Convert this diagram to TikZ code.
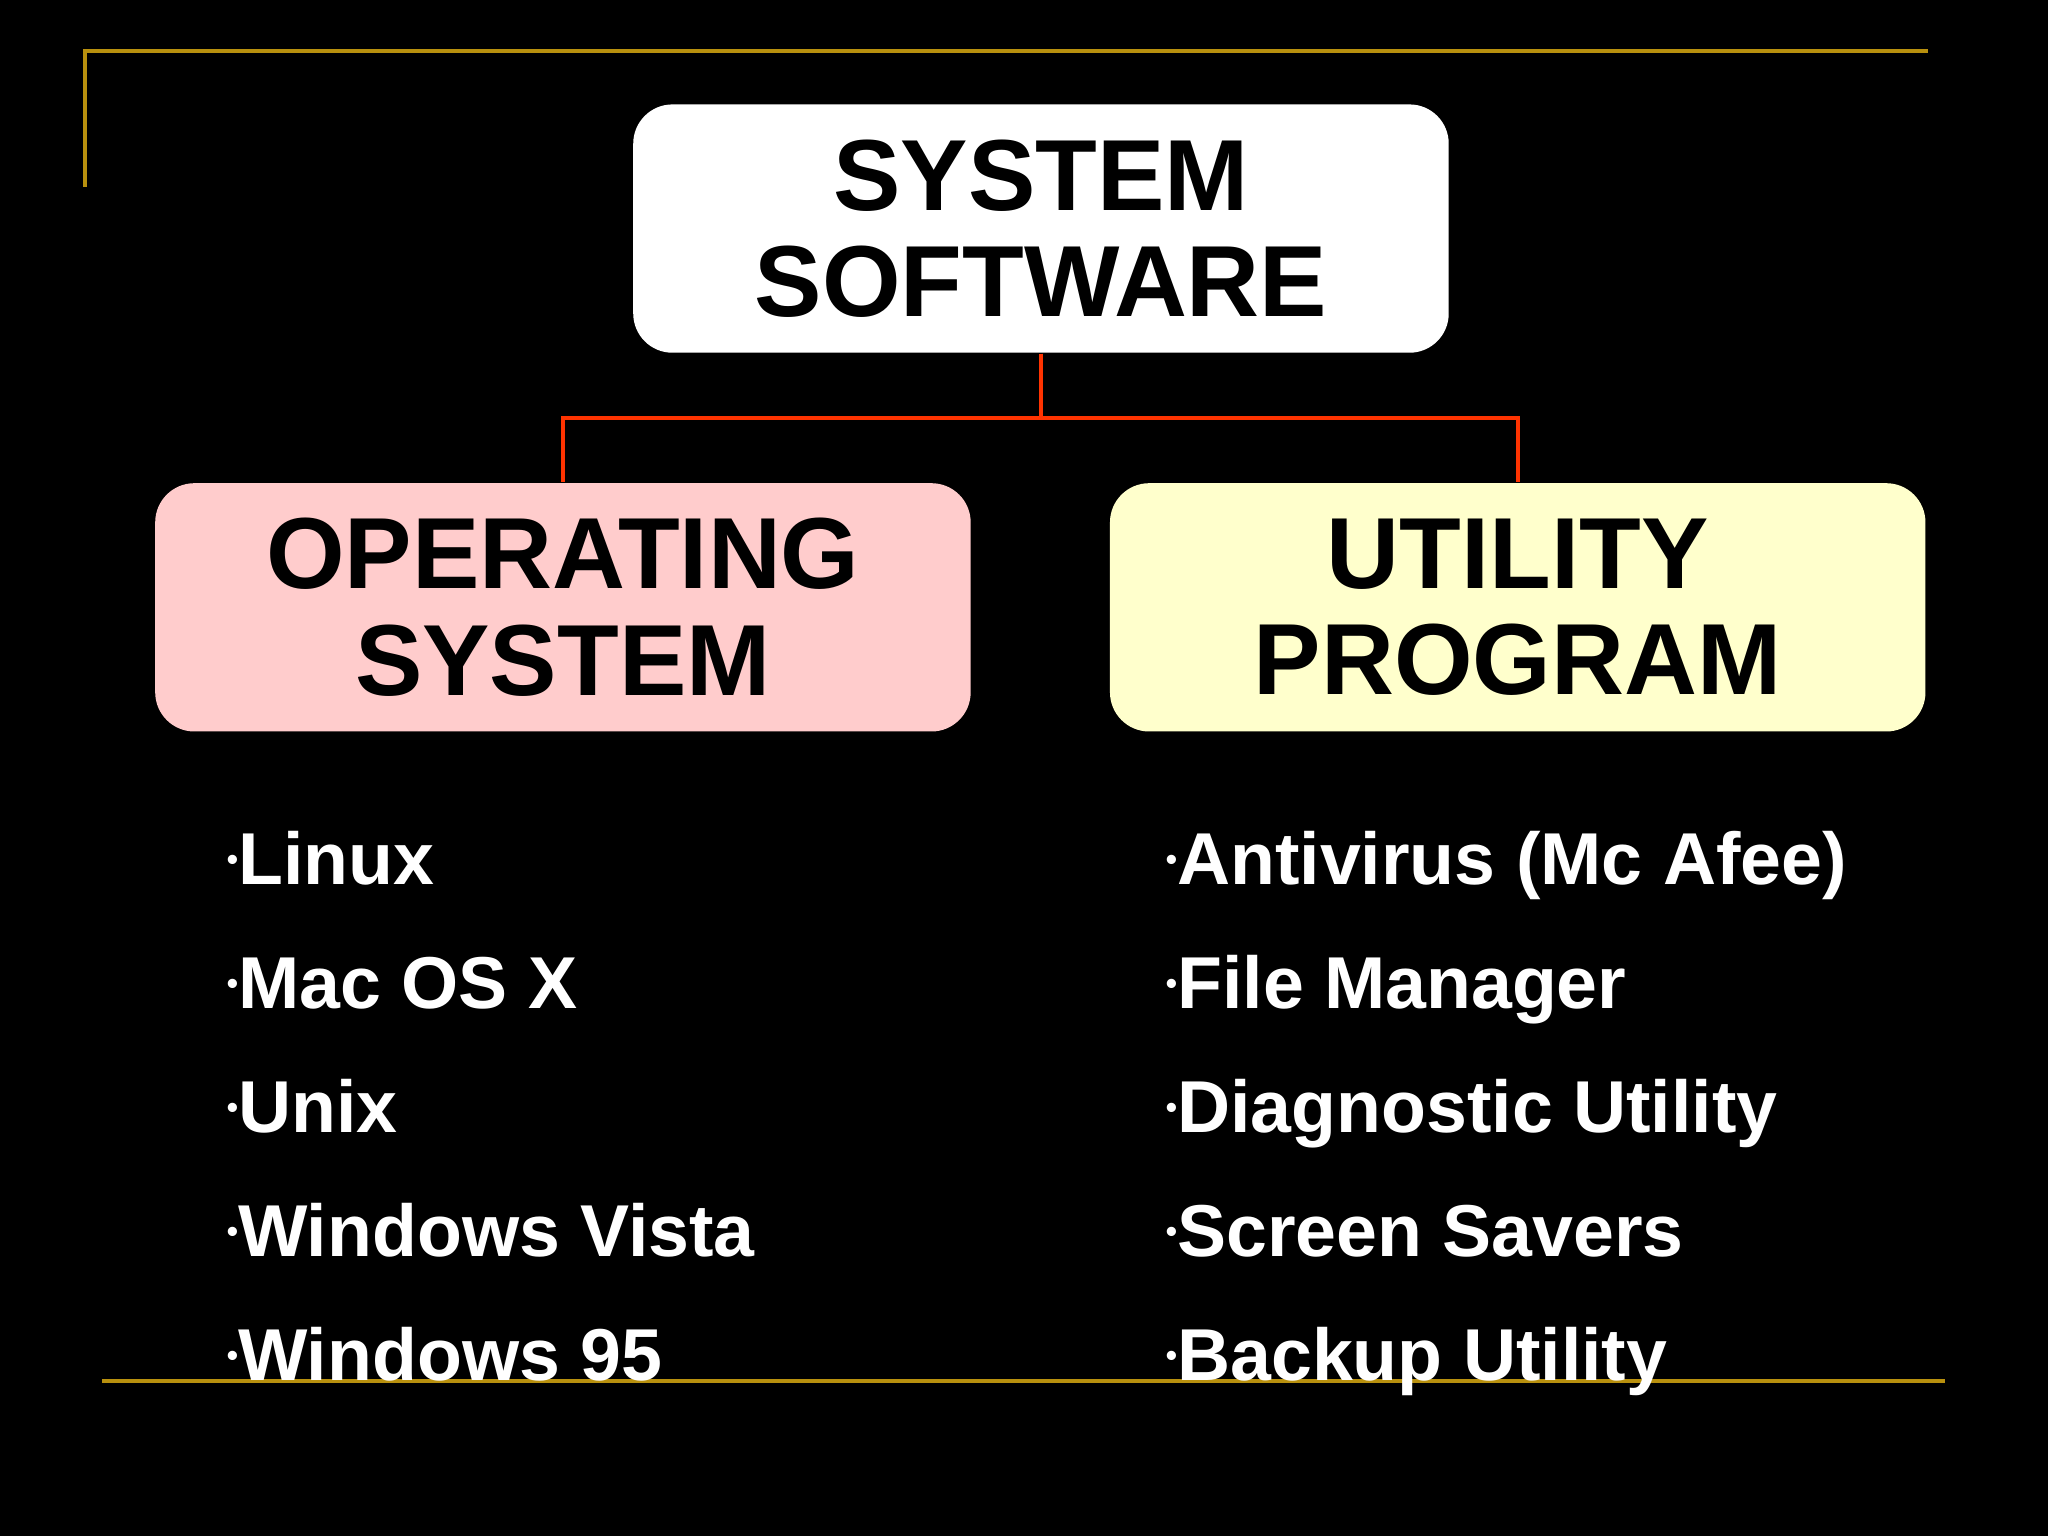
\documentclass[tikz,border=0pt]{standalone}
\usepackage{fontspec}
\setmainfont{Liberation Sans}
\definecolor{gold}{HTML}{B8900E}
\definecolor{conn}{HTML}{FF3300}
\definecolor{pinkbox}{HTML}{FFCCCC}
\definecolor{yelbox}{HTML}{FFFFCC}
\begin{document}
\begin{tikzpicture}[x=0.01cm,y=-0.01cm,
  box/.style={rounded corners=0.3cm,minimum width=6.24cm,minimum height=1.9cm,align=center,font=\bfseries\fontsize{22}{23.2}\selectfont,inner sep=0pt},
  item/.style={anchor=base west,text=white,font=\bfseries\fontsize{16}{18}\selectfont,inner sep=0pt},
  goldline/.style={gold,line width=0.85pt},
  link/.style={conn,line width=0.85pt}]
\fill[black] (0,0) rectangle (1568,1176);
\useasboundingbox (0,0) rectangle (1568,1176);
\coordinate (t1) at (65,143); \coordinate (t2) at (65,39); \coordinate (t3) at (1476,39);
\draw[goldline] (t1) -- (t2) -- (t3);
\coordinate (b1) at (78,1057); \coordinate (b2) at (1489,1057);
\draw[goldline] (b1) -- (b2);
\node[box,fill=white] (ss) at (797,175) {SYSTEM\\SOFTWARE};
\node[box,fill=pinkbox] (os) at (431,465) {OPERATING\\SYSTEM};
\node[box,fill=yelbox] (up) at (1162,465) {UTILITY\\PROGRAM};
\draw[link] (ss.south) -- ++(0,49) -| (os.north);
\draw[link] (ss.south) -- ++(0,49) -| (up.north);
\foreach \t [count=\i] in {Linux,Mac OS X,Unix,Windows Vista,Windows 95}
  \node[item] (l\i) at (173,677+95*\i-95) {\raisebox{0.35ex}{\scriptsize\textbullet}\t};
\foreach \t [count=\i] in {Antivirus (Mc Afee),File Manager,Diagnostic Utility,Screen Savers,Backup Utility}
  \node[item] (r\i) at (892,677+95*\i-95) {\raisebox{0.35ex}{\scriptsize\textbullet}\t};
\end{tikzpicture}
\end{document}
